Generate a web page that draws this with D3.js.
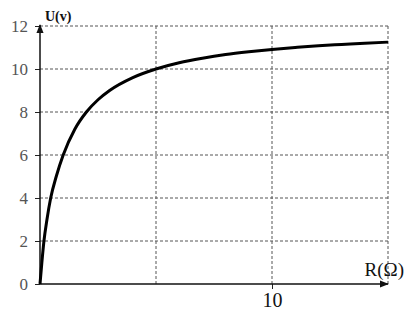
<!DOCTYPE html>
<html><head><meta charset="utf-8">
<script src="https://cdn.jsdelivr.net/npm/d3@7"></script>
<style>body{margin:0;background:#fff}</style>
</head><body>
<script>
const rValues = [0, 0.08, 0.17, 0.3, 0.46, 0.7, 1, 1.5, 2, 2.5, 3, 4, 5, 6, 7, 8, 9, 10, 11, 12, 13, 14, 15];
const uValues = [0, 1.0, 2.0, 3.0, 4.0, 5.0, 6.0, 7.2, 8.0, 8.57, 9.0, 9.6, 10.0, 10.29, 10.5, 10.67, 10.8, 10.91, 11.0, 11.08, 11.14, 11.2, 11.25];
const yTicks = [0, 2, 4, 6, 8, 10, 12];
const xGrid = [5, 10, 15];
const xTickLabels = [10];

const W = 409, H = 311;
const svg = d3.select("body").append("svg").attr("width", W).attr("height", H);
const x = d3.scaleLinear().domain([0, 15]).range([40, 388]);
const y = d3.scaleLinear().domain([0, 12]).range([284, 26]);

// grid
svg.append("g").selectAll("line").data(yTicks.filter(d => d > 0)).join("line")
  .attr("x1", x(0)).attr("x2", x(15)).attr("y1", d => y(d)).attr("y2", d => y(d))
  .attr("stroke", "#555").attr("stroke-width", 1).attr("stroke-dasharray", "3,2");
svg.append("g").selectAll("line").data(xGrid).join("line")
  .attr("x1", d => x(d)).attr("x2", d => x(d)).attr("y1", y(0)).attr("y2", y(12))
  .attr("stroke", "#555").attr("stroke-width", 1).attr("stroke-dasharray", "3,2");

// axes
const yAxis = d3.axisLeft(y).tickValues(yTicks).tickSize(5).tickPadding(7).tickFormat(d3.format("d"));
const gy = svg.append("g").attr("transform", `translate(${x(0)},0)`).call(yAxis);
gy.select(".domain").remove();
gy.attr("font-family", "Liberation Serif, serif").attr("font-size", 17);
gy.selectAll("line").attr("stroke", "#222");
gy.selectAll("text").style("font-family", "Liberation Serif, serif").style("font-size", "17px").attr("fill", "#555");

const xAxis = d3.axisBottom(x).tickValues(xTickLabels).tickSize(5).tickPadding(4).tickFormat(d3.format("d"));
const gx = svg.append("g").attr("transform", `translate(0,${y(0)})`).call(xAxis);
gx.select(".domain").remove();
gx.selectAll("line").attr("stroke", "#222");
gx.selectAll("text").style("font-family", "Liberation Serif, serif").style("font-size", "20px").attr("fill", "#111");

// axis lines with arrows
svg.append("defs").append("marker").attr("id", "arr").attr("viewBox", "0 0 10 10")
  .attr("refX", 9).attr("refY", 5).attr("markerWidth", 6).attr("markerHeight", 6)
  .attr("orient", "auto").append("path").attr("d", "M0,1L10,5L0,9Z").attr("fill", "#111");
svg.append("line").attr("x1", x(0)).attr("x2", x(0)).attr("y1", y(0)).attr("y2", y(12) - 1)
  .attr("stroke", "#111").attr("stroke-width", 1.5).attr("marker-end", "url(#arr)");
svg.append("line").attr("x1", x(0)).attr("x2", x(15)).attr("y1", y(0)).attr("y2", y(0))
  .attr("stroke", "#111").attr("stroke-width", 1.5).attr("marker-end", "url(#arr)");

// curve
const pts = rValues.map((r, i) => [r, uValues[i]]);
svg.append("path").datum(pts)
  .attr("d", d3.line().x(d => x(d[0])).y(d => y(d[1])).curve(d3.curveMonotoneX))
  .attr("fill", "none").attr("stroke", "#000").attr("stroke-width", 3);

// labels
svg.append("text").attr("x", 45).attr("y", 21).text("U(v)")
  .style("font-family", "Liberation Serif, serif").attr("font-weight", "bold").style("font-size", "14px").attr("fill", "#111");
svg.append("text").attr("x", 404).attr("y", 276).attr("text-anchor", "end").text("R(Ω)")
  .style("font-family", "Liberation Serif, serif").style("font-size", "19px").attr("fill", "#111");
</script>
</body></html>
